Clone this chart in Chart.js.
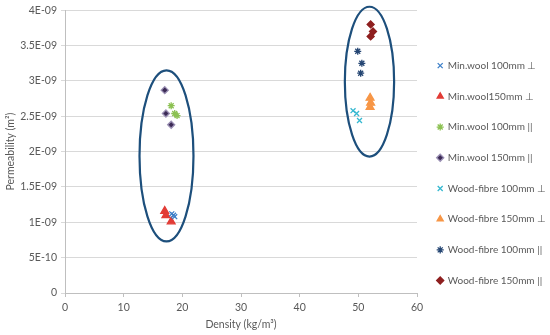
<!DOCTYPE html>
<html><head><meta charset="utf-8">
<script src="https://cdn.jsdelivr.net/npm/chart.js@4/dist/chart.umd.min.js"></script>
<style>html,body{margin:0;padding:0;background:#fff}#wrap{width:550px;height:335px}</style>
</head><body><div id="wrap"><canvas id="c" width="550" height="335"></canvas></div>
<script>
const seriesNames = ["Min.wool 100mm \u22A5","Min.wool150mm \u22A5","Min.wool 100mm ||","Min.wool 150mm ||","Wood-fibre 100mm \u22A5","Wood-fibre 150mm \u22A5","Wood-fibre 100mm ||","Wood-fibre 150mm ||"];
const mw100perpX = [18.2, 18.5, 18.7];
const mw100perpY = [1.12e-9, 1.10e-9, 1.08e-9];
const mw150perpX = [17.0, 17.2, 18.1];
const mw150perpY = [1.16e-9, 1.10e-9, 1.01e-9];
const mw100parX = [18.1, 18.7, 19.1];
const mw100parY = [2.65e-9, 2.54e-9, 2.51e-9];
const mw150parX = [17.0, 17.2, 18.1];
const mw150parY = [2.87e-9, 2.54e-9, 2.38e-9];
const wf100perpX = [49.1, 49.7, 50.2];
const wf100perpY = [2.58e-9, 2.54e-9, 2.44e-9];
const wf150perpX = [52.0, 52.1, 52.0];
const wf150perpY = [2.76e-9, 2.69e-9, 2.63e-9];
const wf100parX = [49.9, 50.6, 50.4];
const wf100parY = [3.42e-9, 3.25e-9, 3.11e-9];
const wf150parX = [52.1, 52.5, 52.1];
const wf150parY = [3.80e-9, 3.70e-9, 3.63e-9];
// ellipses: [centerX, centerY, radiusX, radiusY] in data units
const ellipses = [[17.3, 1.94e-9, 4.6, 1.21e-9],[51.9, 2.99e-9, 4.2, 1.06e-9]];
const yTicks = [0,5e-10,1e-9,1.5e-9,2e-9,2.5e-9,3e-9,3.5e-9,4e-9];
const yTickLabels = ["0","5E-10","1E-09","1.5E-09","2E-09","2.5E-09","3E-09","3.5E-09","4E-09"];

const xs=[mw100perpX,mw150perpX,mw100parX,mw150parX,wf100perpX,wf150perpX,wf100parX,wf150parX];
const ys=[mw100perpY,mw150perpY,mw100parY,mw150parY,wf100perpY,wf150perpY,wf100parY,wf150parY];
const colors=["#3c7fc8","#e23c36","#8cc152","#3b2a55","#35b8d0","#f79646","#254673","#8e1f1f"];
const borders=["#3c7fc8","#e23c36","#8cc152","#9a8fb3","#35b8d0","#f79646","#254673","#8e1f1f"];
const styles=["crossRot","triangle","star","rectRot","crossRot","triangle","star","rectRot"];
const radii=[3.5,4.5,3.5,3.5,3.5,4.5,3.5,3.5];
const datasets=seriesNames.map((n,i)=>({label:n,data:xs[i].map((x,j)=>({x:x,y:ys[i][j]})),pointStyle:styles[i],backgroundColor:colors[i],borderColor:borders[i],pointRadius:radii[i],pointBorderWidth:1.3,showLine:false}));

const ellipsePlugin={id:'ell',beforeDatasetsDraw(chart){const {ctx,scales:{x,y}}=chart;ctx.save();ctx.strokeStyle="#1d4f7c";ctx.lineWidth=2.2;
ellipses.forEach(e=>{const cx=x.getPixelForValue(e[0]),cy=y.getPixelForValue(e[1]);const rx=Math.abs(x.getPixelForValue(e[0]+e[2])-cx),ry=Math.abs(y.getPixelForValue(e[1]+e[3])-cy);ctx.beginPath();ctx.ellipse(cx,cy,rx,ry,0,0,Math.PI*2);ctx.stroke();});ctx.restore();}};

Chart.defaults.font.family="Lato, 'Open Sans', sans-serif";
Chart.defaults.color="#595959";
new Chart(document.getElementById('c'),{type:'scatter',data:{datasets},plugins:[ellipsePlugin],
options:{responsive:false,animation:false,layout:{padding:{left:0,right:2,top:4,bottom:0}},
plugins:{tooltip:{enabled:false},legend:{position:'right',maxWidth:131,title:{display:true,text:' ',font:{size:1},padding:3},labels:{usePointStyle:true,boxWidth:5,boxHeight:5,padding:20.7,font:{size:10},color:"#595959"}}},
scales:{x:{type:'linear',min:0,max:60,afterFit(s){s.height=42;},ticks:{stepSize:10,font:{size:10.5},padding:4},grid:{drawOnChartArea:false,drawTicks:true,tickLength:4,color:"#bfbfbf"},border:{color:"#bfbfbf"},title:{display:true,text:"Density (kg/m\u00B3)",font:{size:10.5},padding:{top:4}}},
y:{type:'linear',min:0,max:4e-9,afterFit(s){s.width=65;},afterBuildTicks(s){s.ticks=yTicks.map(v=>({value:v}));},ticks:{font:{size:10.5},padding:4,callback:(v)=>{const i=yTicks.findIndex(t=>Math.abs(t-v)<1e-12);return i>=0?yTickLabels[i]:'';}},grid:{color:"#d9d9d9",tickLength:4},border:{color:"#bfbfbf"},title:{display:true,text:"Permeability (m\u00B2)",font:{size:10.5},padding:{bottom:0}}}}}});
</script></body></html>
